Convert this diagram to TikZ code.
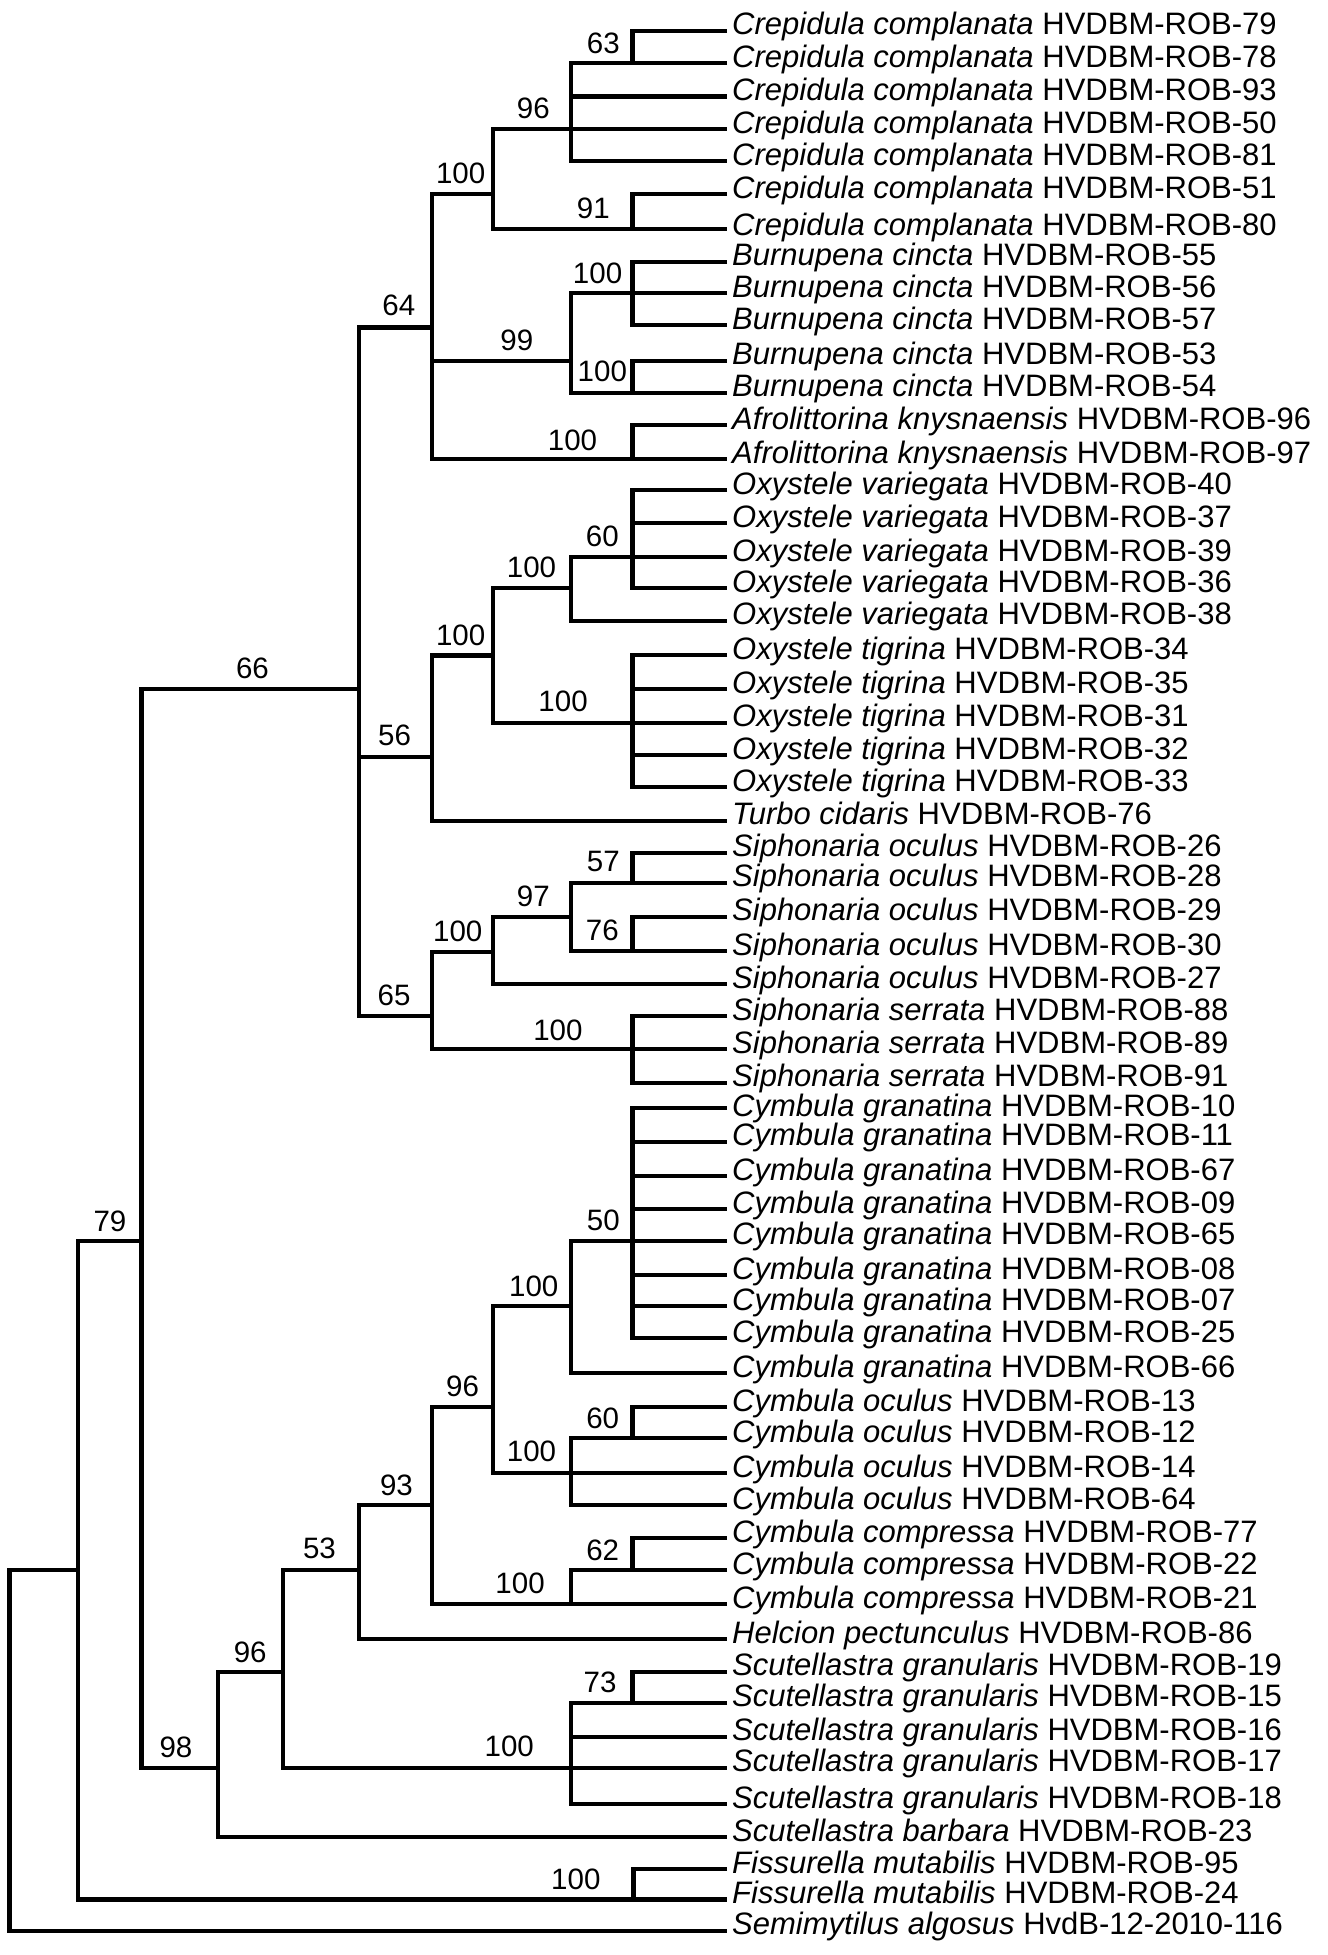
\documentclass[tikz,border=0pt]{standalone}
\usepackage{fontspec}
\setmainfont{Liberation Sans}
\newcommand\leafnode[5][4]{%
  \coordinate (t#2) at (727,#3);
  \node[lt] (n#2) at ([xshift=5pt,yshift=-#1pt]t#2) {\textit{#4} #5};}
\begin{document}
\begin{tikzpicture}[x=1pt,y=-1pt,
  lt/.style={anchor=base west,inner sep=0pt,font=\fontsize{31}{31}\selectfont},
  bs/.style={anchor=center,inner sep=0pt,font=\fontsize{29.5}{30}\selectfont},
  br/.style={line width=4.3pt,line join=miter,black}]
\useasboundingbox (0,0) rectangle (1328,1955);
% leaves
\leafnode{1}{30.7}{Crepidula complanata}{HVDBM-ROB-79}
\leafnode{2}{63.3}{Crepidula complanata}{HVDBM-ROB-78}
\leafnode{3}{96.5}{Crepidula complanata}{HVDBM-ROB-93}
\leafnode{4}{129.3}{Crepidula complanata}{HVDBM-ROB-50}
\leafnode{5}{161.3}{Crepidula complanata}{HVDBM-ROB-81}
\leafnode{6}{194}{Crepidula complanata}{HVDBM-ROB-51}
\leafnode[6]{7}{229.3}{Crepidula complanata}{HVDBM-ROB-80}
\leafnode{8}{261.7}{Burnupena cincta}{HVDBM-ROB-55}
\leafnode{9}{293.3}{Burnupena cincta}{HVDBM-ROB-56}
\leafnode{10}{325}{Burnupena cincta}{HVDBM-ROB-57}
\leafnode{11}{360.7}{Burnupena cincta}{HVDBM-ROB-53}
\leafnode{12}{392.7}{Burnupena cincta}{HVDBM-ROB-54}
\leafnode{13}{425}{Afrolittorina knysnaensis}{HVDBM-ROB-96}
\leafnode{14}{459.3}{Afrolittorina knysnaensis}{HVDBM-ROB-97}
\leafnode{15}{490}{Oxystele variegata}{HVDBM-ROB-40}
\leafnode{16}{523.3}{Oxystele variegata}{HVDBM-ROB-37}
\leafnode{17}{557.3}{Oxystele variegata}{HVDBM-ROB-39}
\leafnode{18}{588.3}{Oxystele variegata}{HVDBM-ROB-36}
\leafnode{19}{620.7}{Oxystele variegata}{HVDBM-ROB-38}
\leafnode{20}{655}{Oxystele tigrina}{HVDBM-ROB-34}
\leafnode{21}{689.3}{Oxystele tigrina}{HVDBM-ROB-35}
\leafnode{22}{722.7}{Oxystele tigrina}{HVDBM-ROB-31}
\leafnode{23}{755}{Oxystele tigrina}{HVDBM-ROB-32}
\leafnode{24}{787.3}{Oxystele tigrina}{HVDBM-ROB-33}
\leafnode{25}{820.7}{Turbo cidaris}{HVDBM-ROB-76}
\leafnode{26}{852.7}{Siphonaria oculus}{HVDBM-ROB-26}
\leafnode{27}{882.7}{Siphonaria oculus}{HVDBM-ROB-28}
\leafnode{28}{916.7}{Siphonaria oculus}{HVDBM-ROB-29}
\leafnode{29}{951}{Siphonaria oculus}{HVDBM-ROB-30}
\leafnode{30}{984}{Siphonaria oculus}{HVDBM-ROB-27}
\leafnode{31}{1016}{Siphonaria serrata}{HVDBM-ROB-88}
\leafnode{32}{1049}{Siphonaria serrata}{HVDBM-ROB-89}
\leafnode{33}{1082.7}{Siphonaria serrata}{HVDBM-ROB-91}
\leafnode[8.5]{34}{1108.3}{Cymbula granatina}{HVDBM-ROB-10}
\leafnode{35}{1141.7}{Cymbula granatina}{HVDBM-ROB-11}
\leafnode{36}{1176}{Cymbula granatina}{HVDBM-ROB-67}
\leafnode{37}{1209.3}{Cymbula granatina}{HVDBM-ROB-09}
\leafnode{38}{1240.7}{Cymbula granatina}{HVDBM-ROB-65}
\leafnode{39}{1275}{Cymbula granatina}{HVDBM-ROB-08}
\leafnode{40}{1306}{Cymbula granatina}{HVDBM-ROB-07}
\leafnode{41}{1338.3}{Cymbula granatina}{HVDBM-ROB-25}
\leafnode{42}{1373.3}{Cymbula granatina}{HVDBM-ROB-66}
\leafnode{43}{1407.3}{Cymbula oculus}{HVDBM-ROB-13}
\leafnode{44}{1438.3}{Cymbula oculus}{HVDBM-ROB-12}
\leafnode{45}{1473.3}{Cymbula oculus}{HVDBM-ROB-14}
\leafnode{46}{1505}{Cymbula oculus}{HVDBM-ROB-64}
\leafnode{47}{1538.3}{Cymbula compressa}{HVDBM-ROB-77}
\leafnode{48}{1570}{Cymbula compressa}{HVDBM-ROB-22}
\leafnode{49}{1604}{Cymbula compressa}{HVDBM-ROB-21}
\leafnode{50}{1639.3}{Helcion pectunculus}{HVDBM-ROB-86}
\leafnode{51}{1671.7}{Scutellastra granularis}{HVDBM-ROB-19}
\leafnode{52}{1702.7}{Scutellastra granularis}{HVDBM-ROB-15}
\leafnode{53}{1736.7}{Scutellastra granularis}{HVDBM-ROB-16}
\leafnode{54}{1767.7}{Scutellastra granularis}{HVDBM-ROB-17}
\leafnode{55}{1804}{Scutellastra granularis}{HVDBM-ROB-18}
\leafnode{56}{1837.3}{Scutellastra barbara}{HVDBM-ROB-23}
\leafnode{57}{1869}{Fissurella mutabilis}{HVDBM-ROB-95}
\leafnode{58}{1899.5}{Fissurella mutabilis}{HVDBM-ROB-24}
\leafnode{59}{1930.7}{Semimytilus algosus}{HvdB-12-2010-116}
% branches
\begin{scope}[br]
% Crepidula
\draw (t1) -| (632.5,63.3);
\draw (t2) -| (571.1,161.3) -- (t5);
\draw (571.1,96.5) -- (t3);
\draw (571.1,129.3) -- (t4);
\draw (571.1,129.3) -| (493.2,229.3) -- (t7);
\draw (t6) -| (632.5,229.3);
% Burnupena
\draw (t8) -| (632.5,325) -- (t10);
\draw (t9) -| (571.1,392.7) -- (t12);
\draw (t11) -| (632.5,392.7);
\draw (431.9,360.7) -- (571.1,360.7);
% Afrolittorina
\draw (t13) -| (632.5,459.3);
% node 64
\draw (493.2,194) -| (431.9,459.3) -- (t14);
% node 66
\draw (431.9,327.5) -| (358.7,1016) -- (431.9,1016);
% Oxystele
\draw (t15) -| (632.5,588.3) -- (t18);
\draw (632.5,523.3) -- (t16);
\draw (t17) -| (571.1,620.7) -- (t19);
\draw (571.1,588.3) -| (493.2,722.7) -- (t22);
\draw (t20) -| (632.5,787.3) -- (t24);
\draw (632.5,689.3) -- (t21);
\draw (632.5,755) -- (t23);
\draw (493.2,655.5) -| (431.9,820.7) -- (t25);
\draw (358.7,756.7) -- (431.9,756.7);
% Siphonaria
\draw (t26) -| (632.5,882.7);
\draw (t27) -| (571.1,951) -- (t29);
\draw (t28) -| (632.5,951);
\draw (571.1,916.7) -| (493.2,984) -- (t30);
\draw (493.2,951.7) -| (431.9,1049) -- (t32);
\draw (t31) -| (632.5,1082.7) -- (t33);
% Cymbula granatina
\draw (t34) -| (632.5,1338.3) -- (t41);
\draw (632.5,1141.7) -- (t35);
\draw (632.5,1176) -- (t36);
\draw (632.5,1209.3) -- (t37);
\draw (632.5,1275) -- (t39);
\draw (632.5,1306) -- (t40);
\draw (t38) -| (571.1,1373.3) -- (t42);
% Cymbula oculus
\draw (t43) -| (632.5,1438.3);
\draw (t44) -| (571.1,1505) -- (t46);
\draw (571.1,1306) -| (493.2,1473.3) -- (t45);
% Cymbula compressa
\draw (t47) -| (632.5,1570);
\draw (t48) -| (571.1,1604);
\draw (493.2,1407.3) -| (431.9,1604) -- (t49);
% Helcion, node 53
\draw (431.9,1505) -| (358.7,1639.3) -- (t50);
% Scutellastra
\draw (t51) -| (632.5,1702.7);
\draw (t52) -| (571.1,1804) -- (t55);
\draw (571.1,1736.7) -- (t53);
\draw (358.7,1570) -| (283.2,1767.7) -- (t54);
\draw (283.2,1671.7) -| (218,1837.3) -- (t56);
% node A
\draw (358.7,689.3) -| (141.6,1767.7) -- (218,1767.7);
% Fissurella, node 79
\draw (t57) -| (633.5,1899.5);
\draw (141.6,1240.7) -| (77.9,1899.5) -- (t58);
% root
\draw (77.9,1570) -| (9.4,1930.7) -- (t59);
\end{scope}
% support values
\node[bs] (b1) at (603.3,43.3) {63};
\node[bs] (b2) at (533.4,108.3) {96};
\node[bs] (b3) at (460.7,173.3) {100};
\node[bs] (b4) at (593.3,208.3) {91};
\node[bs] (b5) at (597.6,273.3) {100};
\node[bs] (b6) at (398.8,305) {64};
\node[bs] (b7) at (516.8,340) {99};
\node[bs] (b8) at (602.3,371.7) {100};
\node[bs] (b9) at (572.5,440) {100};
\node[bs] (b10) at (602.3,536.7) {60};
\node[bs] (b11) at (531.5,567.3) {100};
\node[bs] (b12) at (460.7,635) {100};
\node[bs] (b13) at (252.5,668.3) {66};
\node[bs] (b14) at (563.1,701.7) {100};
\node[bs] (b15) at (394.6,735) {56};
\node[bs] (b16) at (603.3,861.7) {57};
\node[bs] (b17) at (533.4,896.7) {97};
\node[bs] (b18) at (602.3,930.7) {76};
\node[bs] (b19) at (457.8,931.7) {100};
\node[bs] (b20) at (394.1,995) {65};
\node[bs] (b21) at (557.9,1030) {100};
\node[bs] (b22) at (110,1221.7) {79};
\node[bs] (b23) at (603.3,1220.7) {50};
\node[bs] (b24) at (533.8,1286.7) {100};
\node[bs] (b25) at (462.6,1386.7) {96};
\node[bs] (b26) at (602.7,1418.3) {60};
\node[bs] (b27) at (531.5,1451.7) {100};
\node[bs] (b28) at (396.5,1485) {93};
\node[bs] (b29) at (319.5,1548.3) {53};
\node[bs] (b30) at (602.7,1550) {62};
\node[bs] (b31) at (520.1,1583.3) {100};
\node[bs] (b32) at (250.2,1652.7) {96};
\node[bs] (b33) at (600,1682.7) {73};
\node[bs] (b34) at (509.3,1746.7) {100};
\node[bs] (b35) at (176,1747.3) {98};
\node[bs] (b36) at (575.8,1879) {100};
\end{tikzpicture}
\end{document}
